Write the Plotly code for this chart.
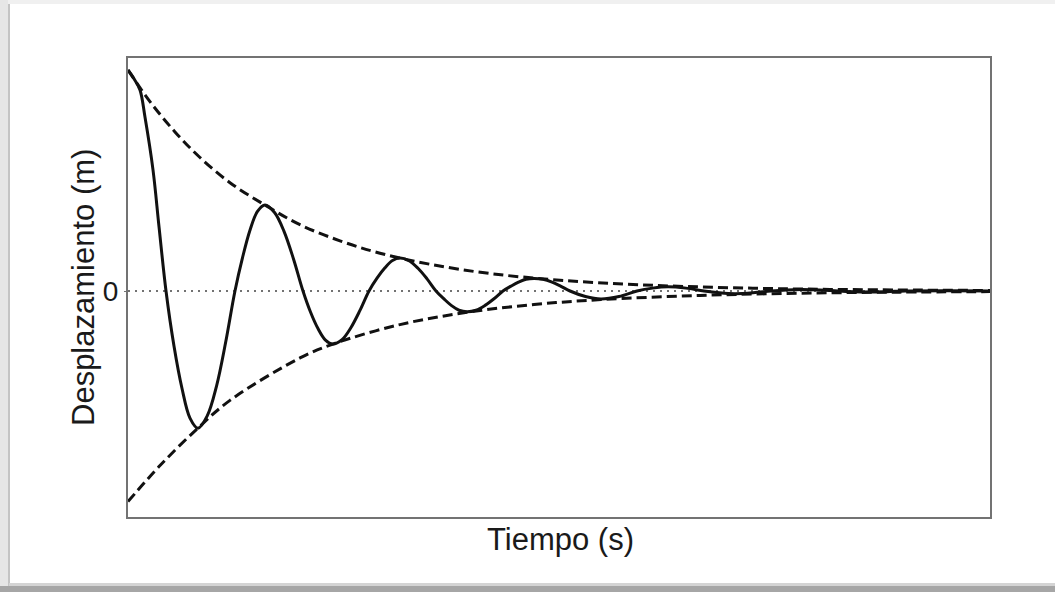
import plotly.graph_objects as go

# ---- data (time in s, displacement normalised) ----
t_curve = [0.000, 0.070, 0.139, 0.197, 0.290, 0.360, 0.441,
           0.534, 0.626, 0.719, 0.812,
           0.919, 1.027, 1.134, 1.241,
           1.328, 1.415, 1.502, 1.589,
           1.700, 1.810, 1.920, 2.030,
           2.117, 2.204, 2.291, 2.378,
           2.483, 2.587, 2.691, 2.796,
           2.889, 2.981, 3.068, 3.155,
           3.260, 3.364, 3.469, 3.573,
           3.666, 3.753, 3.840, 3.933,
           4.037, 4.142, 4.246, 4.350,
           4.443, 4.530, 4.617, 4.710,
           4.814, 4.919, 5.023, 5.128,
           5.307, 5.487, 5.696, 5.905,
           6.085, 6.265, 6.473, 6.682,
           6.862, 7.042, 7.251, 7.459,
           7.639, 7.819, 8.028, 8.237,
           8.416, 8.596, 8.805, 9.014,
           9.501, 10.000]
x_curve = [1.000, 0.960, 0.910, 0.787, 0.548, 0.290, 0.000,
           -0.250, -0.440, -0.575, -0.621,
           -0.565, -0.430, -0.230, 0.000,
           0.150, 0.275, 0.360, 0.389,
           0.355, 0.270, 0.145, 0.000,
           -0.095, -0.170, -0.222, -0.240,
           -0.220, -0.165, -0.088, 0.000,
           0.058, 0.105, 0.138, 0.149,
           0.137, 0.103, 0.055, 0.000,
           -0.036, -0.066, -0.087, -0.094,
           -0.087, -0.065, -0.035, 0.000,
           0.022, 0.040, 0.053, 0.057,
           0.053, 0.040, 0.021, 0.000,
           -0.025, -0.036, -0.025, 0.000,
           0.013, 0.019, 0.013, 0.000,
           -0.008, -0.012, -0.008, 0.000,
           0.005, 0.007, 0.005, 0.000,
           -0.003, -0.004, -0.003, 0.000,
           0.001, 0.000]

t_upper = [0.000, 0.255, 0.545, 0.835, 1.183, 1.589, 1.995, 2.459, 2.923,
           3.503, 4.200, 5.012, 5.940, 6.984, 8.144, 10.000]
env_upper = [1.000, 0.857, 0.720, 0.604, 0.490, 0.389, 0.300, 0.227, 0.171,
             0.121, 0.079, 0.049, 0.028, 0.015, 0.0073, 0.0024]

t_lower = [0.000, 0.371, 0.812, 1.183, 1.995, 2.378, 3.155, 3.933, 4.710,
           5.487, 6.636, 7.796, 8.956, 10.000]
env_lower = [-0.953, -0.790, -0.620, -0.495, -0.303, -0.240, -0.152, -0.0965,
             -0.061, -0.039, -0.020, -0.0101, -0.0051, -0.0028]

zero_tick = [0]
zero_label = ["0"]
x_title = "Tiempo (s)"
y_title = "Desplazamiento (m)"

# ---- layout geometry (pixels) ----
W, H = 1055, 592
L, R, T, B = 128, 990, 58, 517
PW, PH = R - L, B - T


def px(x):
    return (x - L) / PW


def py(y):
    return (B - y) / PH


fig = go.Figure()

fig.add_trace(go.Scatter(x=[0, 10], y=[0, 0], mode="lines",
                         line=dict(color="#444444", width=1.5, dash="2px,5px"),
                         hoverinfo="skip", showlegend=False))
fig.add_trace(go.Scatter(x=t_upper, y=env_upper, mode="lines",
                         line=dict(color="#111111", width=3, dash="10px,5px", shape="spline"),
                         showlegend=False))
fig.add_trace(go.Scatter(x=t_lower, y=env_lower, mode="lines",
                         line=dict(color="#111111", width=3, dash="10px,5px", shape="spline"),
                         showlegend=False))
fig.add_trace(go.Scatter(x=t_curve, y=x_curve, mode="lines",
                         line=dict(color="#111111", width=3, shape="spline", smoothing=1.0),
                         showlegend=False))

font_family = "Liberation Sans, Arial, sans-serif"

shapes = [
    # image frame and shadow
    dict(type="rect", xref="paper", yref="paper", x0=px(0), x1=px(W), y0=py(0), y1=py(4),
         fillcolor="#f0f0f0", line=dict(width=0), layer="below"),
    dict(type="rect", xref="paper", yref="paper", x0=px(0), x1=px(8), y0=py(592), y1=py(0),
         fillcolor="#e6e6e6", line=dict(width=0), layer="below"),
    dict(type="line", xref="paper", yref="paper", x0=px(9), x1=px(9), y0=py(586), y1=py(4),
         line=dict(color="#c4c4c4", width=2), layer="below"),
    dict(type="rect", xref="paper", yref="paper", x0=px(0), x1=px(W), y0=py(592), y1=py(586),
         fillcolor="#a6a6a6", line=dict(width=0), layer="below"),
    dict(type="rect", xref="paper", yref="paper", x0=px(9), x1=px(W), y0=py(586), y1=py(583),
         fillcolor="#d4d4d4", line=dict(width=0), layer="below"),
]

annotations = [
    dict(text=x_title, xref="paper", yref="paper", x=px(560), y=py(539),
         xanchor="center", yanchor="middle", showarrow=False,
         font=dict(family=font_family, size=31, color="#1a1a1a")),
    dict(text=y_title, xref="paper", yref="paper", x=px(83), y=py(288),
         xanchor="center", yanchor="middle", showarrow=False, textangle=-90,
         font=dict(family=font_family, size=31, color="#1a1a1a")),
]

fig.update_layout(
    width=W, height=H,
    margin=dict(l=L, r=W - R, t=T, b=H - B, pad=0),
    paper_bgcolor="white", plot_bgcolor="white",
    shapes=shapes, annotations=annotations,
    showlegend=False,
)
fig.update_xaxes(range=[0, 10], showgrid=False, zeroline=False, showticklabels=False,
                 ticks="", showline=True, mirror=True, linecolor="#737373", linewidth=2)
fig.update_yaxes(range=[(291 - B) / 221, (291 - T) / 221], showgrid=False, zeroline=False,
                 tickvals=zero_tick, ticktext=zero_label, ticks="outside", ticklen=2,
                 tickcolor="#737373", tickwidth=1,
                 tickfont=dict(family=font_family, size=28, color="#1a1a1a"),
                 showline=True, mirror=True, linecolor="#737373", linewidth=2)

fig.write_html("out.html")
